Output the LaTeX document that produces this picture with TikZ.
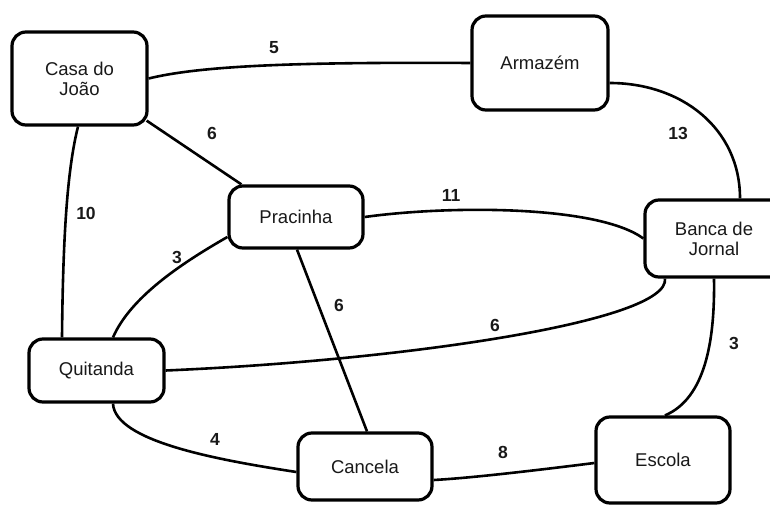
\documentclass[tikz,border=0pt]{standalone}
\usepackage{fontspec}
\setmainfont{Liberation Sans}
\usetikzlibrary{calc}
\begin{document}
\begin{tikzpicture}[x=1pt,y=-1pt,
  place/.style={draw=black,line width=3.2pt,rounded corners=14pt,fill=white,align=center,
    font=\fontsize{18.5}{20}\selectfont,text=black!90,inner sep=0pt},
  road/.style={draw=black,line width=2.6pt},
  cost/.style={font=\fontsize{17.5}{20}\selectfont\bfseries,text=black!90,inner sep=0pt}]
\useasboundingbox (0,0) rectangle (770,505);
\node[place,minimum width=135pt,minimum height=93pt] (casa) at (79.5,78.5) {Casa do\\João};
\node[place,minimum width=136pt,minimum height=94pt] (armazem) at (540,63) {Armazém};
\node[place,minimum width=134pt,minimum height=62pt] (pracinha) at (296,217) {Pracinha};
\node[place,minimum width=138pt,minimum height=77pt] (banca) at (714,238.5) {Banca de\\Jornal};
\node[place,minimum width=135pt,minimum height=63pt] (quitanda) at (96.5,370.5) {Quitanda};
\node[place,minimum width=134pt,minimum height=67pt] (cancela) at (365,466.5) {Cancela};
\node[place,minimum width=134pt,minimum height=86pt] (escola) at (663,460) {Escola};

\draw[road] (casa.east) .. controls +(53,-13) and +(-172,-1) .. (armazem.west);
\draw[road] ($(casa.south east)+(-2,-6)$) -- ($(pracinha.north west)+(14,0)$);
\draw[road] ($(casa.south)+(-1.5,0)$) .. controls +(-10,40) and +(1,-109) .. ($(quitanda.north)+(-34.5,0)$);
\draw[road] ($(armazem.east)+(0,20)$) .. controls +(72,0) and +(0,-70) .. ($(banca.north)+(26,0)$);
\draw[road] (pracinha.east) .. controls +(87,-12) and +(-45,-33) .. (banca.west);
\draw[road] ($(quitanda.north)+(16.5,0)$) .. controls +(17,-39) and +(-49,28) .. ($(pracinha.west)+(0,20)$);
\draw[road] ($(pracinha.south)+(1,0)$) -- ($(cancela.north)+(2,0)$);
\draw[road] (quitanda.east) .. controls +(236,-10) and +(5,43) .. ($(banca.south)+(-49,0)$);
\draw[road] (banca.south) .. controls +(1,63) and +(40,-17) .. ($(escola.north)+(2,0)$);
\draw[road] ($(quitanda.south)+(16.5,0)$) .. controls +(2,38) and +(-78,-12) .. ($(cancela.west)+(0,5.5)$);
\draw[road] ($(cancela.east)+(0,13.5)$) .. controls +(38,-2) and +(-56,7) .. ($(escola.west)+(0,3)$);

\node[cost] (c1) at (274,48) {5};
\node[cost] (c2) at (212,133) {6};
\node[cost] (c3) at (86,213) {10};
\node[cost] (c4) at (678,133) {13};
\node[cost] (c5) at (451,195) {11};
\node[cost] (c6) at (177,257) {3};
\node[cost] (c7) at (339,305) {6};
\node[cost] (c8) at (495,325) {6};
\node[cost] (c9) at (734,343) {3};
\node[cost] (c10) at (215,439) {4};
\node[cost] (c11) at (503,452) {8};
\end{tikzpicture}
\end{document}
